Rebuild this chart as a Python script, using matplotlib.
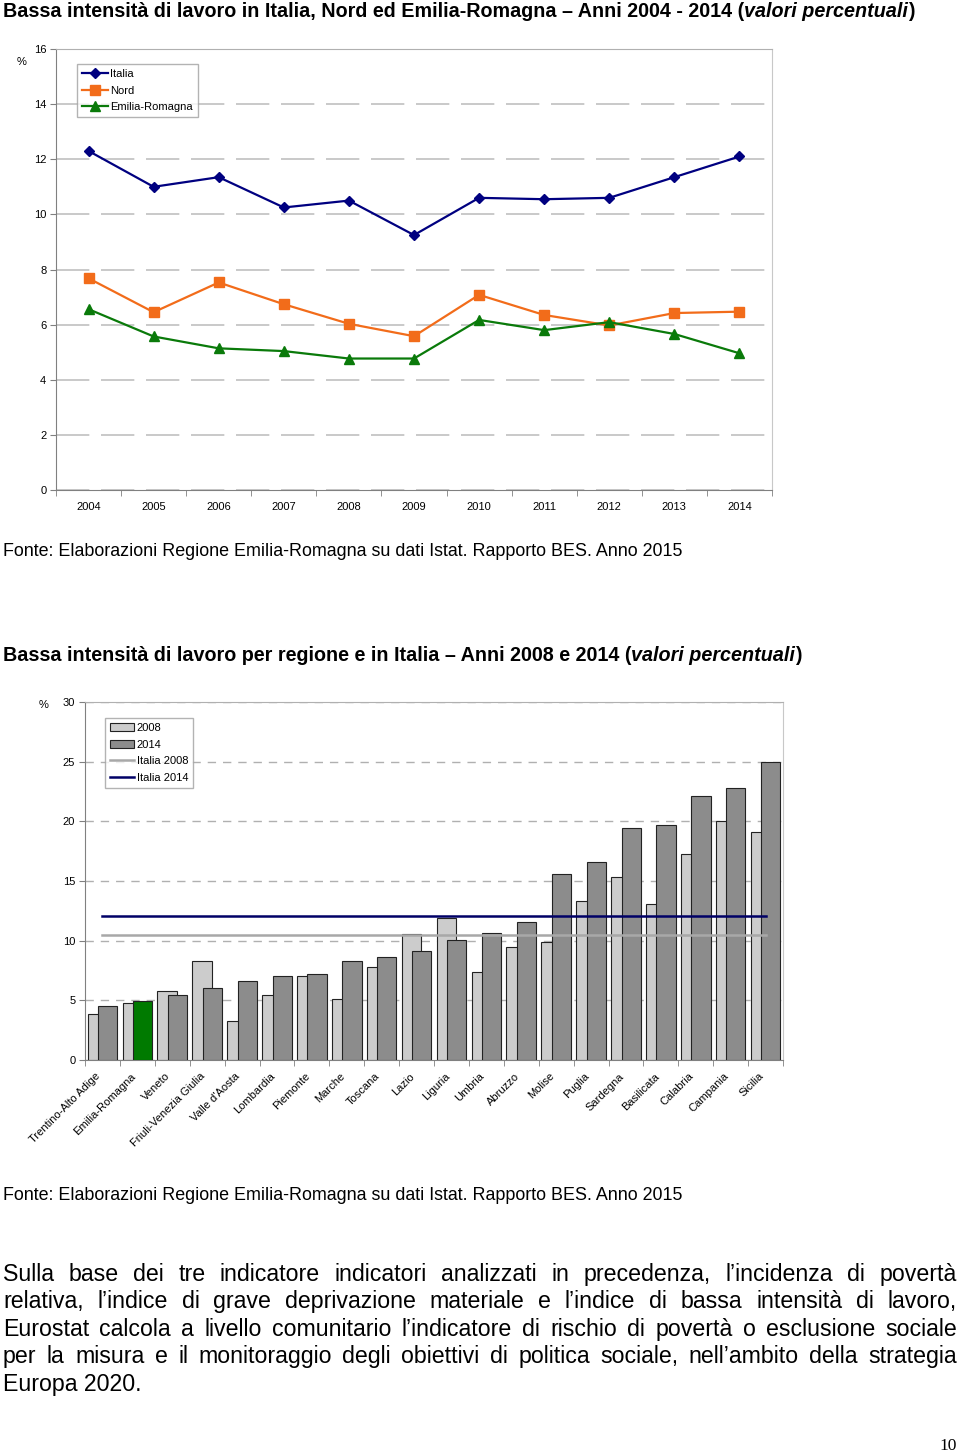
import numpy as np
import matplotlib
matplotlib.use('Agg')
import matplotlib.pyplot as plt
from matplotlib.patches import Patch
from matplotlib.lines import Line2D

plt.rcParams['font.family'] = ['Liberation Sans', 'DejaVu Sans']

# dati grafico 1 (valori percentuali)
anni = ['2004', '2005', '2006', '2007', '2008', '2009', '2010', '2011', '2012', '2013', '2014']
italia = [12.3, 11.0, 11.35, 10.25, 10.5, 9.25, 10.6, 10.55, 10.6, 11.35, 12.1]
nord = [7.68, 6.45, 7.53, 6.74, 6.03, 5.58, 7.08, 6.35, 5.97, 6.42, 6.47]
emilia = [6.56, 5.57, 5.14, 5.04, 4.77, 4.77, 6.17, 5.8, 6.09, 5.66, 4.96]

# dati grafico 2
regioni = ['Trentino-Alto Adige', 'Emilia-Romagna', 'Veneto', 'Friuli-Venezia Giulia',
           "Valle d'Aosta", 'Lombardia', 'Piemonte', 'Marche', 'Toscana', 'Lazio',
           'Liguria', 'Umbria', 'Abruzzo', 'Molise', 'Puglia', 'Sardegna',
           'Basilicata', 'Calabria', 'Campania', 'Sicilia']
val_2008 = [3.83, 4.78, 5.76, 8.33, 3.3, 5.42, 7.07, 5.14, 7.82, 10.6,
            11.87, 7.35, 9.44, 9.86, 13.3, 15.33, 13.07, 17.3, 20.03, 19.08]
val_2014 = [4.55, 4.97, 5.48, 6.0, 6.65, 7.04, 7.18, 8.33, 8.6, 9.16,
            10.03, 10.67, 11.6, 15.6, 16.6, 19.47, 19.67, 22.1, 22.8, 25.0]
italia_2008 = 10.5
italia_2014 = 12.1

fonte = 'Fonte: Elaborazioni Regione Emilia-Romagna su dati Istat. Rapporto BES. Anno 2015'
righe = ['Sulla base dei tre indicatore indicatori analizzati in precedenza, l\u2019incidenza di povertà',
         'relativa, l\u2019indice di grave deprivazione materiale e l\u2019indice di bassa intensità di lavoro,',
         'Eurostat calcola a livello comunitario l\u2019indicatore di rischio di povertà o esclusione sociale',
         'per la misura e il monitoraggio degli obiettivi di politica sociale, nell\u2019ambito della strategia',
         'Europa 2020.']

W, H = 960, 1455
fig = plt.figure(figsize=(W / 100, H / 100), dpi=100)


def box(l, t, r, b):
    return [l / W, 1 - b / H, (r - l) / W, (b - t) / H]


def titolo(ax, y, parti, fs=14.2):
    t = fig.text(3 / W, 1 - y / H, parti[0], fontsize=fs, fontweight='bold', va='bottom')
    t = ax.annotate(parti[1], xy=(1, 0), xycoords=t, va='bottom', fontsize=fs,
                    fontweight='bold', fontstyle='italic', annotation_clip=False)
    ax.annotate(parti[2], xy=(1, 0), xycoords=t, va='bottom', fontsize=fs,
                fontweight='bold', annotation_clip=False)


def stile_assi(ax):
    ax.spines['left'].set_color('#808080')
    ax.spines['bottom'].set_color('#808080')
    ax.spines['top'].set_color('#b0b0b0')
    ax.spines['right'].set_color('#c8c8c8')
    ax.tick_params(axis='y', length=4, color='#808080', labelsize=8, pad=3)
    ax.tick_params(axis='x', which='major', length=0, labelsize=8)
    ax.tick_params(axis='x', which='minor', length=4, color='#808080')
    ax.set_axisbelow(True)


# ---- grafico 1 ----
ax1 = fig.add_axes(box(56, 49, 772, 490))
x1 = np.arange(len(anni))
ax1.plot(x1, italia, color='#000080', lw=1.6, marker='D', ms=5.5, label='Italia')
ax1.plot(x1, nord, color='#f26c1a', lw=1.6, marker='s', ms=6.5, label='Nord')
ax1.plot(x1, emilia, color='#0a7a0a', lw=1.6, marker='^', ms=7, label='Emilia-Romagna')
ax1.set_xlim(-0.5, len(anni) - 0.5)
ax1.set_ylim(0, 16)
ax1.set_yticks(range(0, 17, 2))
ax1.set_xticks(x1)
ax1.set_xticklabels(anni)
ax1.set_xticks(np.arange(-0.5, len(anni)), minor=True)
ax1.yaxis.grid(True, color='#c0c0c0', lw=1.2, linestyle=(0, (20, 7)))
stile_assi(ax1)
ax1.tick_params(axis='x', which='major', pad=9)
ax1.legend(loc='upper left', bbox_to_anchor=(0.03, 0.966), fontsize=8, frameon=True,
           fancybox=False, edgecolor='#a0a0a0', borderpad=0.45, handlelength=2.3,
           handletextpad=0.2, labelspacing=0.59, borderaxespad=0)
fig.text(22 / W, 1 - 62 / H, '%', fontsize=8, ha='center', va='center')

titolo(ax1, 21, ['Bassa intensità di lavoro in Italia, Nord ed Emilia-Romagna \u2013 Anni 2004 - 2014 (',
                 'valori percentuali', ')'])
fig.text(3 / W, 1 - 551 / H, fonte, fontsize=12.9, va='center')

# ---- grafico 2 ----
ax2 = fig.add_axes(box(85, 702, 783, 1060))
x2 = np.arange(len(regioni))
colori_2014 = ['#8c8c8c'] * len(regioni)
colori_2014[regioni.index('Emilia-Romagna')] = '#007a00'
ax2.bar(x2 - 0.15, val_2008, width=0.55, color='#cccccc', edgecolor='#222222', lw=0.8, zorder=2)
ax2.bar(x2 + 0.15, val_2014, width=0.55, color=colori_2014, edgecolor='#222222', lw=0.8, zorder=3)
ax2.plot([x2[0], x2[-1]], [italia_2008] * 2, color='#a8a8a8', lw=1.8, zorder=4)
ax2.plot([x2[0], x2[-1]], [italia_2014] * 2, color='#000066', lw=1.8, zorder=5)
ax2.set_xlim(-0.5, len(regioni) - 0.5)
ax2.set_ylim(0, 30)
ax2.set_yticks(range(0, 31, 5))
# etichette leggermente a sinistra del centro categoria (tick invisibili)
ax2.set_xticks(x2 - 0.2)
ax2.set_xticklabels(regioni, rotation=45, ha='right', rotation_mode='anchor', fontsize=8.3)
ax2.set_xticks(np.arange(-0.5, len(regioni)), minor=True)
ax2.yaxis.grid(True, color='#b0b0b0', lw=1.0, linestyle=(0, (6, 5)))
stile_assi(ax2)
ax2.tick_params(axis='x', which='major', pad=8)
maniglie = [Patch(facecolor='#cccccc', edgecolor='#222222', lw=0.8),
            Patch(facecolor='#8c8c8c', edgecolor='#222222', lw=0.8),
            Line2D([], [], color='#a8a8a8', lw=1.8),
            Line2D([], [], color='#000066', lw=1.8)]
ax2.legend(maniglie, ['2008', '2014', 'Italia 2008', 'Italia 2014'], loc='upper left',
           bbox_to_anchor=(0.0287, 0.955), fontsize=8, frameon=True, fancybox=False,
           edgecolor='#a0a0a0', borderpad=0.45, handlelength=2.2, handleheight=0.7,
           handletextpad=0.2, labelspacing=0.59, borderaxespad=0)
fig.text(44 / W, 1 - 705 / H, '%', fontsize=8, ha='center', va='center')

titolo(ax2, 665, ['Bassa intensità di lavoro per regione e in Italia \u2013 Anni 2008 e 2014 (',
                  'valori percentuali', ')'])
fig.text(3 / W, 1 - 1195 / H, fonte, fontsize=12.9, va='center')

# ---- paragrafo giustificato ----
renderer = fig.canvas.get_renderer()
ys = [1274, 1301, 1329, 1356, 1384]
for riga, y in zip(righe, ys):
    yb = 1 - (y + 7) / H
    if riga is righe[-1]:
        fig.text(3 / W, yb, riga, fontsize=16.7, va='baseline')
        continue
    parole = riga.split(' ')
    testi = [fig.text(0, yb, p, fontsize=16.7, va='baseline') for p in parole]
    larg = [t.get_window_extent(renderer).width for t in testi]
    spazio = (954 - sum(larg)) / (len(parole) - 1)
    xp = 3
    for t, w in zip(testi, larg):
        t.set_x(xp / W)
        xp += w + spazio

fig.text(957 / W, 1 - 1446 / H, '10', family='Liberation Serif', fontsize=12.5, ha='right', va='center')

fig.savefig('out.png', dpi=100)
